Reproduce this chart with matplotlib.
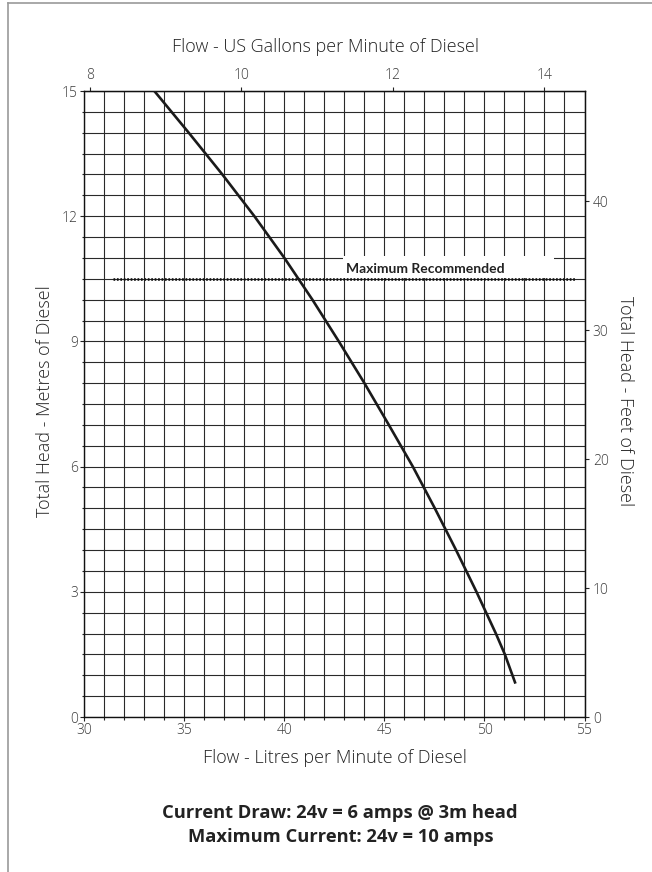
import matplotlib
matplotlib.use('Agg')
import matplotlib.pyplot as plt
from matplotlib.patches import Rectangle
from matplotlib.lines import Line2D
import numpy as np

# ---- data ----
head_m = [15, 14, 13, 12, 11, 10, 9, 8, 7, 6, 5, 4, 3, 2, 1.5, 0.8]
flow_lpm = [33.5, 35.22, 36.9, 38.5, 40.0, 41.4, 42.72, 44.0, 45.22, 46.42,
            47.52, 48.58, 49.6, 50.57, 51.02, 51.55]
max_recommended_m = 10.5
max_line_x = [31.45, 54.6]
x_major = [30, 35, 40, 45, 50, 55]
y_major = [0, 3, 6, 9, 12, 15]
gal_ticks = [8, 10, 12, 14]
ft_ticks = [0, 10, 20, 30, 40]
L_PER_GAL = 3.785
FT_PER_M = 3.236

FONT = ['Open Sans', 'DejaVu Sans']
plt.rcParams['font.family'] = FONT

W, H = 652, 872
fig = plt.figure(figsize=(W / 100, H / 100), dpi=100)
fig.patch.set_facecolor('white')

left, right, top, bottom = 84.3, 584.5, 91, 717
ax = fig.add_axes([left / W, 1 - bottom / H, (right - left) / W, (bottom - top) / H])
ax.set_xlim(30, 55)
ax.set_ylim(0, 15)
ax.set_xticks(x_major)
ax.set_xticks(np.arange(30, 56, 1), minor=True)
ax.set_yticks(y_major)
ax.set_yticks(np.arange(0, 15.01, 0.5), minor=True)
ax.grid(which='both', color='#2a2a2a', lw=0.8)
ax.set_axisbelow(True)
for s in ax.spines.values():
    s.set_color('#111')
    s.set_linewidth(1.0)
tick_lbl = dict(labelsize=10, labelcolor='#3a3a3a')
ax.tick_params(which='major', direction='out', length=3, width=0.8, color='#222',
               pad=1.5, **tick_lbl)
ax.tick_params(which='minor', direction='out', length=2.5, width=0.8, color='#222')
ax.tick_params(axis='y', which='minor', length=1.5)
for t in ax.get_xticklabels() + ax.get_yticklabels():
    t.set_fontweight('light')

# curve
ax.plot(flow_lpm, head_m, color='#1a1a1a', lw=1.9, zorder=4,
        solid_capstyle='butt', solid_joinstyle='round')

# white box behind label + dotted line
ax.add_patch(Rectangle((42.95, 10.52), 10.55, 0.53, facecolor='white',
                       edgecolor='none', zorder=2))
ax.plot(max_line_x, [max_recommended_m] * 2, color='#111', lw=1.9,
        linestyle=(0, (0.65, 0.65)), zorder=3)
ax.text(43.07, 10.64, 'Maximum Recommended', fontsize=10, fontweight='bold',
        family=['Lato', 'DejaVu Sans'], color='#222', zorder=5, va='baseline')

# secondary axes
secx = ax.secondary_xaxis('top', functions=(lambda l: l / L_PER_GAL, lambda g: g * L_PER_GAL))
secx.set_xticks(gal_ticks)
secx.tick_params(direction='out', length=3, width=0.8, color='#222', pad=3, **tick_lbl)
secy = ax.secondary_yaxis('right', functions=(lambda m: m * FT_PER_M, lambda f: f / FT_PER_M))
secy.set_yticks(ft_ticks)
secy.tick_params(direction='out', length=3, width=0.8, color='#222', pad=3, **tick_lbl)
for t in secx.get_xticklabels() + secy.get_yticklabels():
    t.set_fontweight('light')

# labels
tc = '#222'
lab = dict(fontsize=13, color=tc, fontweight='light')
fig.text(325 / W, 1 - 47 / H, 'Flow - US Gallons per Minute of Diesel', ha='center',
         va='center', **lab)
fig.text(335 / W, 1 - 758 / H, 'Flow - Litres per Minute of Diesel', ha='center',
         va='center', **lab)
fig.text(45 / W, 1 - 401 / H, 'Total Head - Metres of Diesel', ha='center',
         va='center', rotation=90, **lab)
fig.text(625 / W, 1 - 401 / H, 'Total Head - Feet of Diesel', ha='center',
         va='center', rotation=270, **lab)
fig.text(340 / W, 1 - 813 / H, 'Current Draw: 24v = 6 amps @ 3m head', ha='center',
         va='center', fontsize=13.2, fontweight='bold', color=tc)
fig.text(341 / W, 1 - 837 / H, 'Maximum Current: 24v = 10 amps', ha='center',
         va='center', fontsize=13.2, fontweight='bold', color=tc)

# page border (top and left)
fig.add_artist(Line2D([8 / W, 1], [1 - 3 / H, 1 - 3 / H], color='#9a9a9a', lw=1.2,
                      transform=fig.transFigure))
fig.add_artist(Line2D([8 / W, 8 / W], [0, 1 - 3 / H], color='#9a9a9a', lw=1.2,
                      transform=fig.transFigure))

fig.savefig('out.png', dpi=100, facecolor='white')
